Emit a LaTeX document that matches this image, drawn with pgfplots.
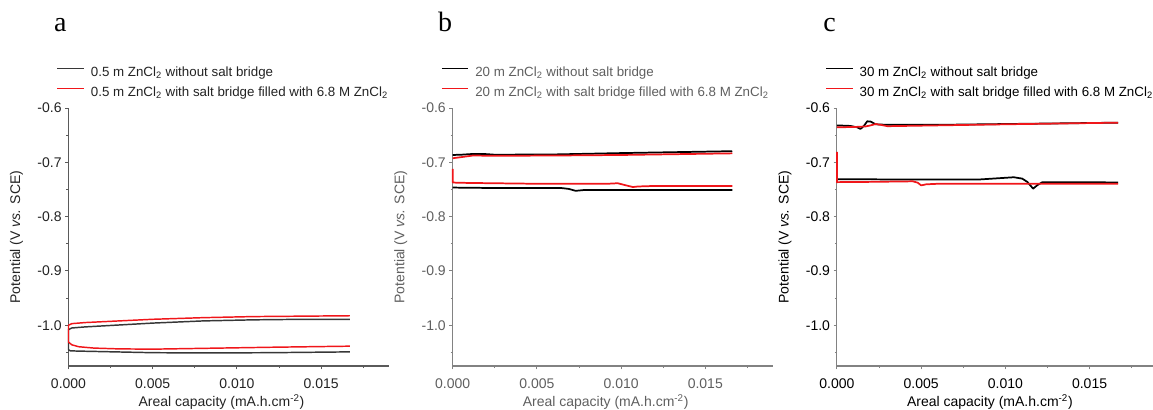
\documentclass[border=0pt]{standalone}
\usepackage{pgfplots}
\pgfplotsset{compat=1.18}
\usepackage{fontspec}
\setmainfont{Liberation Sans}
\newfontfamily\timesfont{Liberation Serif}
\definecolor{myred}{RGB}{240,22,26}
\definecolor{dgray}{RGB}{55,55,55}
\definecolor{txtA}{RGB}{35,35,35}
\definecolor{txtB}{RGB}{95,95,95}
\definecolor{axA}{RGB}{90,90,90}
\definecolor{axB}{RGB}{130,130,130}

\pgfplotsset{
  panel/.style={
    scale only axis, width=240pt, height=193.5pt,
    xmin=0, xmax=0.019, ymin=-1.075, ymax=-0.6,
    axis lines*=left, clip=false,
    xtick={0,0.005,0.01,0.015}, minor xtick={0.0025,0.0075,0.0125,0.0175},
    ytick={-1,-0.9,-0.8,-0.7,-0.6}, minor ytick={-1.05,-0.95,-0.85,-0.75,-0.65},
    scaled ticks=false,
    /pgf/number format/assume math mode=true,
    xticklabel style={/pgf/number format/fixed, /pgf/number format/fixed zerofill, /pgf/number format/precision=3, inner sep=0pt, anchor=north, yshift=-6.5pt},
    yticklabel style={/pgf/number format/fixed, /pgf/number format/fixed zerofill, /pgf/number format/precision=1, inner sep=0pt, anchor=east, xshift=-2.5pt},
    tick align=outside, major tick length=2.5pt, minor tick length=1.6pt,
    ticklabel style={font=\fontsize{10.5}{12}\selectfont},
    label style={font=\fontsize{10.5}{12}\selectfont},
    xlabel={Areal capacity (mA.h.cm\textsuperscript{-2})},
    ylabel={Potential (V \textit{vs.} SCE)},
    xlabel style={at={(axis description cs:0.478,-0.158)}, anchor=base},
    ylabel style={at={(axis description cs:-0.1625,0.5)}, anchor=center},
    legend cell align=left,
    legend image code/.code={\draw[#1] (0pt,3.6pt) -- (20pt,3.6pt);},
    legend style={draw=none, fill=none, inner sep=0pt, outer sep=0pt,
      at={(-0.0367,1.031)}, anchor=south west, row sep=5pt, column sep=4.5pt,
      font=\fontsize{10}{12}\selectfont,
      nodes={inner sep=0pt, text height=7.5pt, text depth=2.5pt}},
    every axis plot/.append style={line width=1.1pt, line join=round},
  }
}

\begin{document}
\begin{tikzpicture}
\path[use as bounding box] (0,0) rectangle (864.75pt,307.5pt);

% ---------------- panel a ----------------
\begin{axis}[panel, at={(51.375pt,33pt)}, anchor=south west,
  axis line style={axA, line width=0.8pt}, tick style={axA, line width=0.7pt},
  ticklabel style={text=txtA}, label style={text=txtA}, legend style={text=txtA}]
\addplot[dgray] coordinates {
(0.0167,-1.049) (0.012,-1.0505) (0.008,-1.051) (0.005,-1.0505) (0.002,-1.0485) (0.0005,-1.0475) (0.0001,-1.047)
(0,-1.045) (0,-1.008) (0.0002,-1.005) (0.001,-1.003) (0.003,-0.9995) (0.005,-0.996) (0.008,-0.992) (0.011,-0.990) (0.014,-0.989) (0.0167,-0.989)};
\addlegendentry{0.5 m ZnCl\textsubscript{2} without salt bridge}
\addplot[myred] coordinates {
(0.0167,-1.0385) (0.012,-1.0405) (0.008,-1.0425) (0.005,-1.044) (0.003,-1.0435) (0.0015,-1.042) (0.0006,-1.0395) (0.0002,-1.036) (0,-1.031)
(0,-1.0) (0.0002,-0.997) (0.001,-0.995) (0.003,-0.992) (0.005,-0.989) (0.008,-0.986) (0.011,-0.984) (0.0167,-0.9825)};
\addlegendentry{0.5 m ZnCl\textsubscript{2} with salt bridge filled with 6.8 M ZnCl\textsubscript{2}}
\node[anchor=base west, inner sep=0pt, font=\timesfont\fontsize{21}{24}\selectfont, text=black] at (axis description cs:-0.0454,1.2946) {a};
\end{axis}

% ---------------- panel b ----------------
\begin{axis}[panel, at={(339.5pt,33pt)}, anchor=south west,
  axis line style={axB, line width=0.8pt}, tick style={axB, line width=0.7pt},
  ticklabel style={text=txtB}, label style={text=txtB}, legend style={text=txtB},
  every axis plot/.append style={line width=1.3pt}]
\addplot[black] coordinates {
(0,-0.6865) (0.0005,-0.686) (0.00125,-0.6845) (0.0018,-0.6845) (0.0025,-0.686) (0.006,-0.6855) (0.01,-0.683) (0.0166,-0.6795)};
\addlegendentry{20 m ZnCl\textsubscript{2} without salt bridge}
\addplot[myred] coordinates {
(0.0166,-0.7435) (0.012,-0.7435) (0.011,-0.7445) (0.0107,-0.7455) (0.0103,-0.7425) (0.0098,-0.7385) (0.0092,-0.7395) (0.005,-0.7395) (0.001,-0.738) (0.0002,-0.7375) (0,-0.737) (0,-0.712)};
\addlegendentry{20 m ZnCl\textsubscript{2} with salt bridge filled with 6.8 M ZnCl\textsubscript{2}}
\addplot[black, forget plot] coordinates {
(0,-0.7465) (0.003,-0.7475) (0.0065,-0.7475) (0.0069,-0.749) (0.0073,-0.7525) (0.0078,-0.751) (0.012,-0.751) (0.0166,-0.751)};
\addplot[myred, forget plot] coordinates {
(0,-0.6925) (0.0005,-0.6905) (0.0012,-0.6875) (0.0025,-0.688) (0.006,-0.6875) (0.01,-0.6865) (0.0166,-0.6835)};
\node[anchor=base west, inner sep=0pt, font=\timesfont\fontsize{21}{24}\selectfont, text=black] at (axis description cs:-0.046,1.2946) {b};
\end{axis}

% ---------------- panel c ----------------
\begin{axis}[panel, at={(627.7pt,33pt)}, anchor=south west,
  axis line style={axB, line width=0.8pt}, tick style={axB, line width=0.7pt},
  ticklabel style={text=black}, label style={text=black}, legend style={text=black},
  every axis plot/.append style={line width=1.3pt}]
\addplot[black] coordinates {
(0,-0.731) (0.003,-0.7315) (0.0085,-0.7315) (0.0095,-0.7295) (0.0105,-0.7275) (0.011,-0.7300) (0.0113,-0.736) (0.01165,-0.7485) (0.0119,-0.742) (0.0122,-0.7365) (0.0167,-0.737)};
\addlegendentry{30 m ZnCl\textsubscript{2} without salt bridge}
\addplot[myred] coordinates {
(0,-0.681) (0,-0.7365) (0.002,-0.736) (0.0045,-0.735) (0.0048,-0.7375) (0.005,-0.7425) (0.0053,-0.7405) (0.006,-0.7395) (0.0167,-0.7395)};
\addlegendentry{30 m ZnCl\textsubscript{2} with salt bridge filled with 6.8 M ZnCl\textsubscript{2}}
\addplot[black, forget plot] coordinates {
(0,-0.632) (0.0008,-0.633) (0.0012,-0.6355) (0.0014,-0.6385) (0.0016,-0.633) (0.0018,-0.6245) (0.002,-0.625) (0.0023,-0.630) (0.003,-0.631) (0.006,-0.631) (0.01,-0.6295) (0.0167,-0.627)};
\addplot[myred, forget plot] coordinates {
(0,-0.6355) (0.001,-0.635) (0.0017,-0.634) (0.002,-0.632) (0.0023,-0.6295) (0.0026,-0.631) (0.003,-0.6335) (0.006,-0.632) (0.01,-0.630) (0.0167,-0.627)};
\node[anchor=base west, inner sep=0pt, font=\timesfont\fontsize{21}{24}\selectfont, text=black] at (axis description cs:-0.043,1.2946) {c};
\end{axis}
\end{tikzpicture}
\end{document}
